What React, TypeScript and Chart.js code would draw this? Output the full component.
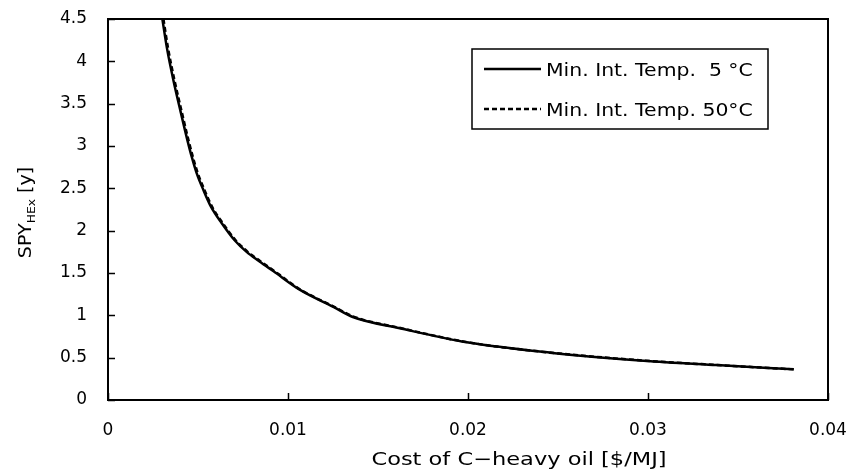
import React, { useEffect, useRef } from "react";
import { Chart, registerables } from "chart.js";

Chart.register(...registerables);

// Data
const costSolid = [0.00302, 0.00328, 0.00363, 0.00404, 0.00441, 0.00465, 0.00493, 0.0053, 0.00572, 0.00632, 0.00702, 0.0077, 0.0084, 0.0092, 0.01067, 0.01252, 0.0136, 0.01622, 0.01993, 0.02456, 0.02974, 0.03381, 0.0381];
const spySolid = [4.5, 4.15, 3.78, 3.4, 3.07, 2.874, 2.677, 2.48, 2.283, 2.087, 1.89, 1.75, 1.64, 1.52, 1.3, 1.1, 0.98, 0.847, 0.681, 0.559, 0.465, 0.413, 0.362];
const costDashed = [0.00308, 0.00334, 0.00369, 0.0041, 0.00447, 0.00471, 0.00499, 0.00536, 0.00578, 0.00638, 0.00708, 0.00776, 0.00846, 0.00926, 0.01072, 0.01257, 0.01364, 0.01625, 0.01995, 0.02457, 0.02975, 0.03381, 0.0381];
const spyDashed = [4.5, 4.15, 3.78, 3.4, 3.07, 2.874, 2.677, 2.48, 2.283, 2.087, 1.89, 1.75, 1.64, 1.52, 1.3, 1.1, 0.985, 0.85, 0.683, 0.56, 0.466, 0.413, 0.362];

const seriesLabels = ["Min. Int. Temp.  5 °C", "Min. Int. Temp. 50°C"];
const xTicks = [0, 0.01, 0.02, 0.03, 0.04];
const yTicks = [0, 0.5, 1, 1.5, 2, 2.5, 3, 3.5, 4, 4.5];
const xTitle = "Cost of C\u2212heavy oil [$/MJ]";
const yTitleMain = "SPY";
const yTitleSub = "HEx";
const yTitleTail = " [y]";

const FONT = "'DejaVu Sans', sans-serif";

function stretchText(ctx: CanvasRenderingContext2D, text: string, x: number, y: number, sx: number) {
  ctx.save();
  ctx.translate(x, y);
  ctx.scale(sx, 1);
  ctx.fillText(text, 0, 0);
  ctx.restore();
}

const decorPlugin = {
  id: "decor",
  afterDraw(chart: any) {
    const ctx = chart.ctx as CanvasRenderingContext2D;
    const area = chart.chartArea;
    const xs = chart.scales.x;
    const ys = chart.scales.y;
    ctx.save();
    // frame
    ctx.strokeStyle = "#000";
    ctx.lineWidth = 2;
    ctx.strokeRect(area.left, area.top, area.right - area.left, area.bottom - area.top);
    // inward ticks
    ctx.lineWidth = 1.5;
    ctx.beginPath();
    yTicks.forEach((v) => {
      const py = Math.round(ys.getPixelForValue(v)) + 0.5;
      ctx.moveTo(area.left, py);
      ctx.lineTo(area.left + 7, py);
    });
    xTicks.forEach((v) => {
      const px = Math.round(xs.getPixelForValue(v)) + 0.5;
      ctx.moveTo(px, area.bottom);
      ctx.lineTo(px, area.bottom - 7);
    });
    ctx.stroke();

    // x title
    ctx.fillStyle = "#000";
    ctx.font = `18px ${FONT}`;
    ctx.textAlign = "center";
    ctx.textBaseline = "middle";
    stretchText(ctx, xTitle, 519, 460, 1.25);

    // y title with subscript
    ctx.save();
    ctx.translate(25, (area.top + area.bottom) / 2 + 3);
    ctx.rotate(-Math.PI / 2);
    ctx.scale(1.12, 1);
    ctx.textAlign = "left";
    ctx.textBaseline = "alphabetic";
    ctx.font = `17px ${FONT}`;
    const w1 = ctx.measureText(yTitleMain).width;
    const w3 = ctx.measureText(yTitleTail).width;
    ctx.font = `11px ${FONT}`;
    const w2 = ctx.measureText(yTitleSub).width;
    let x0 = -(w1 + w2 + w3) / 2;
    const base = 6;
    ctx.font = `17px ${FONT}`;
    ctx.fillText(yTitleMain, x0, base);
    x0 += w1;
    ctx.font = `11px ${FONT}`;
    ctx.fillText(yTitleSub, x0, base + 4);
    x0 += w2;
    ctx.font = `17px ${FONT}`;
    ctx.fillText(yTitleTail, x0, base);
    ctx.restore();

    // legend
    const lx = 472, ly = 49, lw = 296, lh = 80;
    ctx.fillStyle = "#fff";
    ctx.fillRect(lx, ly, lw, lh);
    ctx.strokeStyle = "#000";
    ctx.lineWidth = 1.5;
    ctx.strokeRect(lx, ly, lw, lh);
    const rows = [69, 109];
    seriesLabels.forEach((label, i) => {
      const ds = chart.data.datasets.find((d: any) => d.label === label);
      ctx.beginPath();
      ctx.strokeStyle = "#000";
      ctx.lineWidth = 2.5;
      ctx.setLineDash((ds && ds.borderDash) || []);
      ctx.moveTo(484, rows[i]);
      ctx.lineTo(541, rows[i]);
      ctx.stroke();
      ctx.setLineDash([]);
      ctx.fillStyle = "#000";
      ctx.font = `17px ${FONT}`;
      ctx.textAlign = "left";
      ctx.textBaseline = "middle";
      stretchText(ctx, label, 546, rows[i] + 3, 1.2);
    });
    ctx.restore();
  },
};

export default function App() {
  const ref = useRef<HTMLCanvasElement | null>(null);
  useEffect(() => {
    document.body.style.margin = "0";
    if (!ref.current) return;
    const chart = new Chart(ref.current, {
      type: "scatter",
      data: {
        datasets: [
          {
            label: seriesLabels[1],
            data: costDashed.map((x, i) => ({ x, y: spyDashed[i] })),
            showLine: true,
            borderColor: "#000",
            borderWidth: 2.5,
            borderDash: [5, 3],
            pointRadius: 0,
            cubicInterpolationMode: "monotone",
          },
          {
            label: seriesLabels[0],
            data: costSolid.map((x, i) => ({ x, y: spySolid[i] })),
            showLine: true,
            borderColor: "#000",
            borderWidth: 2.5,
            pointRadius: 0,
            cubicInterpolationMode: "monotone",
          },
        ],
      },
      options: {
        animation: false,
        responsive: false,
        devicePixelRatio: 1,
        layout: { padding: { top: 19, right: 25, left: 0, bottom: 0 } },
        plugins: { legend: { display: false }, tooltip: { enabled: false } },
        scales: {
          x: {
            type: "linear",
            min: 0,
            max: 0.04,
            afterFit: (s: any) => {
              s.height = 71;
              s.paddingLeft = 0;
              s.paddingRight = 0;
            },
            afterBuildTicks: (s: any) => { s.ticks = xTicks.map((v) => ({ value: v })); },
            border: { display: false },
            grid: { display: false, drawTicks: false },
            ticks: {
              color: "#000",
              padding: 20,
              maxRotation: 0,
              font: { family: FONT, size: 17 },
              callback: (v: any) => String(v),
            },
          },
          y: {
            type: "linear",
            min: 0,
            max: 4.5,
            afterFit: (s: any) => {
              s.width = 108;
              s.paddingTop = 0;
              s.paddingBottom = 0;
            },
            afterBuildTicks: (s: any) => { s.ticks = yTicks.map((v) => ({ value: v })); },
            border: { display: false },
            grid: { display: false, drawTicks: false },
            ticks: {
              color: "#000",
              padding: 21,
              font: { family: FONT, size: 17 },
              callback: (v: any) => String(v),
            },
          },
        },
      },
      plugins: [decorPlugin],
    } as any);
    return () => chart.destroy();
  }, []);
  return (
    <div style={{ width: 853, height: 471 }}>
      <canvas ref={ref} width={853} height={471} style={{ display: "block" }} />
    </div>
  );
}
